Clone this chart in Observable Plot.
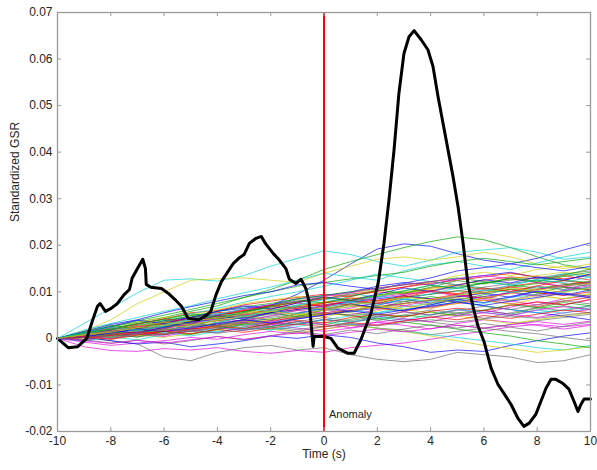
<!DOCTYPE html>
<html><head><meta charset="utf-8">
<script src="https://cdn.jsdelivr.net/npm/d3@7"></script>
<script src="https://cdn.jsdelivr.net/npm/@observablehq/plot@0.6"></script>
<style>body{margin:0;background:#fff;font-family:"Liberation Sans",Arial,sans-serif}</style>
</head><body><div id="chart"></div>
<script>
// time grid of the background (surrogate) traces, seconds
const times = [-10,-9,-8,-7,-6,-5,-4,-3,-2,-1,0,1,2,3,4,5,6,7,8,9,10];
// background traces, values in units of 1e-3 (standardized GSR)
const traces = [
[0,0.8,1.5,2.2,3.0,3.6,4.5,5.4,7.0,9.5,12.5,16.0,19.2,20.3,19.8,18.2,16.8,16.0,17.2,19.0,20.5],
[0,1.2,2.5,3.5,4.5,5.8,7.0,8.8,10.5,12.5,14.8,16.5,18.0,19.5,20.8,21.8,21.2,19.5,17.5,15.8,15.0],
[0,0.5,1.8,2.5,3.2,4.5,5.0,6.2,7.0,7.8,8.5,9.2,10.0,9.5,10.8,11.5,10.5,11.2,12.0,11.0,10.5],
[0,3.2,6.5,9.8,12.5,12.8,12.3,13.5,15.5,17.2,18.8,18.0,16.5,15.5,16.8,18.5,19.0,19.5,18.5,17.0,17.5],
[0,-1.8,-2.6,-2.8,-2.2,-2.5,-2.0,-2.8,-3.2,-2.6,-3.0,-2.0,-1.5,-1.0,-0.2,0.8,1.5,2.5,3.0,2.5,3.0],
[0,1.5,4.0,7.5,10.0,12.5,12.8,13.0,12.5,12.0,14.0,15.5,17.0,17.5,16.8,17.5,18.5,17.5,16.0,15.0,16.0],
[0,0.3,-0.5,-1.2,-4.0,-4.8,-3.0,-2.0,-1.5,-2.5,-2.0,-3.5,-4.5,-5.0,-4.5,-3.0,-3.5,-4.0,-5.2,-4.8,-3.5],
[0,-0.5,0.5,1.2,2.0,1.5,2.8,3.5,3.0,4.2,5.0,5.8,6.5,7.5,8.2,7.8,9.0,9.8,10.5,11.2,12.0],
[0,0.5,0.2,1.0,0.8,1.8,2.5,2.0,3.2,3.0,4.0,3.5,4.2,5.0,4.5,5.5,6.0,5.2,6.5,7.0,6.2],
[0,1.0,2.2,3.0,4.2,5.5,6.0,7.2,8.0,8.8,9.5,9.0,10.2,11.0,12.2,11.5,12.5,13.2,12.8,13.5,12.5],
[0,0.2,1.0,0.5,1.5,2.2,1.8,3.0,3.5,4.5,5.2,6.0,5.5,6.8,7.5,8.2,7.5,8.8,9.5,10.2,11.0],
[0,0.6,1.2,2.0,1.5,2.5,3.2,4.0,3.5,4.8,5.5,5.0,6.2,7.0,6.5,7.8,8.5,8.0,7.2,8.5,9.2],
[0,1.2,2.0,3.5,4.5,5.0,6.2,7.5,8.2,9.0,8.5,9.8,10.5,11.5,12.0,13.5,14.2,13.5,14.8,15.5,14.8],
[0,0.4,0.0,0.8,1.5,1.0,2.0,2.8,2.2,1.5,2.5,3.0,2.2,1.8,0.8,1.5,2.2,3.0,3.8,4.5,5.2],
[0,0.8,1.8,2.5,3.8,4.5,5.8,6.5,7.2,8.5,9.2,10.0,11.2,12.0,11.5,12.8,13.5,14.2,13.0,12.5,13.8],
[0,-0.2,0.5,1.5,2.2,3.5,4.0,5.2,6.0,6.8,7.2,8.0,7.5,8.8,9.5,10.2,9.8,11.0,11.8,12.5,12.0],
[0,0.5,1.0,2.0,2.8,3.2,4.5,5.0,5.8,6.5,7.8,7.2,6.5,5.8,6.8,7.5,8.2,7.5,6.8,8.0,8.8],
[0,1.8,3.2,4.5,5.8,7.0,8.5,9.8,11.0,12.5,14.0,13.2,12.5,14.5,15.8,16.5,15.5,14.8,16.2,17.5,18.5],
[0,-0.8,-1.5,-1.0,-0.5,0.2,-0.2,0.8,1.5,1.0,2.0,2.8,3.5,2.8,2.0,3.2,4.0,3.5,2.8,2.0,2.8],
[0,0.8,1.5,2.8,3.5,4.2,5.5,6.0,5.5,6.8,7.5,8.5,9.2,10.0,10.8,11.5,10.8,10.0,9.2,8.5,9.5],
[0,0.5,1.2,1.8,2.5,3.2,2.8,3.8,4.5,5.2,6.0,6.8,7.5,8.0,7.2,8.5,9.0,8.2,9.5,10.2,11.0],
[0,0.2,-0.5,-1.2,-0.8,-1.8,-1.2,-0.5,0.5,0.0,0.8,0.2,-1.0,-1.8,-3.0,-2.5,-2.8,-1.5,-0.5,0.5,1.2],
[0,1.0,2.5,3.8,5.0,6.2,7.5,8.8,10.0,11.2,12.0,12.8,13.5,14.2,15.5,16.5,17.2,16.5,15.8,16.5,17.2],
[0,0.3,0.8,1.5,2.2,3.0,3.8,4.5,5.5,6.2,6.8,7.5,8.2,9.0,8.5,9.5,10.2,11.0,10.5,11.5,12.2],
[0,0.5,0.0,0.8,1.2,0.5,1.5,2.2,1.8,2.5,3.5,3.0,2.2,1.5,0.8,0.2,-0.5,-1.2,-2.0,-2.5,-1.5],
[0,0.8,1.5,2.2,3.0,3.8,4.5,5.2,6.0,6.8,7.2,8.0,8.8,9.5,10.0,9.2,8.5,9.8,10.5,11.2,10.5],
[0,-0.3,0.2,0.8,0.2,1.0,1.8,2.5,2.0,1.2,2.0,2.8,2.2,1.5,0.5,-0.5,-1.5,-2.2,-3.0,-2.5,-1.8],
[0,0.8,1.8,2.5,3.5,4.2,5.0,5.8,6.5,7.0,7.8,8.2,9.0,9.8,10.2,11.0,11.8,12.5,13.0,13.8,14.5],
[0,1.5,3.0,4.0,5.5,6.8,8.0,9.2,10.0,11.5,12.0,11.2,10.5,11.8,13.0,14.5,15.2,16.0,15.2,14.5,15.5],
[0,0.4,1.2,0.8,1.8,2.8,2.2,3.5,4.2,4.8,5.5,5.0,4.2,3.5,2.8,2.0,1.2,0.5,-0.5,-1.2,-2.0],
[0,0.6,1.5,2.5,3.2,4.2,5.0,6.0,6.8,7.8,8.5,9.5,10.2,11.0,11.8,12.5,13.2,14.0,13.2,12.8,13.5],
[0,1.0,2.0,3.2,4.0,5.2,6.5,7.8,9.0,10.0,11.2,12.5,13.8,13.0,12.2,11.5,10.8,10.0,9.2,10.0,11.0],
[0,0.2,0.8,1.5,1.0,2.0,2.8,3.5,3.0,2.2,1.5,2.2,3.0,3.8,4.5,5.2,6.0,5.2,4.5,5.5,6.2],
[0,0.6,1.4,2.2,3.0,3.8,4.6,5.5,6.2,7.0,7.8,8.5,9.2,9.8,10.5,11.2,12.0,12.8,13.5,14.2,13.5],
[0,0.2,0.5,1.2,1.8,2.5,3.2,4.0,4.8,5.5,6.2,5.5,4.8,4.2,3.5,2.8,2.2,1.5,1.0,0.2,-0.5],
[0,0.5,1.2,2.0,2.8,3.5,4.2,4.8,5.5,6.2,7.0,7.8,8.5,9.2,8.5,7.8,7.0,6.2,5.5,4.8,4.0],
[0,0.8,1.8,2.8,3.8,4.8,5.8,6.8,7.5,8.5,9.2,10.0,10.8,11.5,12.2,13.0,12.2,11.5,10.8,11.5,12.2],
[0,0.3,0.6,1.0,1.5,2.0,2.5,3.2,3.8,4.5,5.2,6.0,6.8,7.5,8.2,9.0,9.8,10.5,9.8,9.2,10.0],
[0,0.6,1.2,1.8,2.5,3.2,2.5,1.8,2.5,3.2,4.0,4.8,5.5,6.2,7.0,7.8,7.0,6.2,5.5,6.2,7.0],
[0,0.5,1.5,2.5,3.5,4.5,5.2,6.2,7.2,8.0,9.0,9.8,10.8,11.5,12.2,12.8,13.5,12.8,12.0,11.2,12.0],
[0,0.2,0.2,0.5,1.0,1.8,2.5,3.2,4.0,4.8,5.5,6.2,7.0,6.2,5.5,4.8,4.0,3.2,4.0,4.8,5.5],
[0,0.5,1.2,1.8,2.5,3.0,3.8,4.5,5.2,6.0,6.5,7.2,8.0,8.8,9.5,10.2,11.0,11.8,12.5,11.8,11.2],
[0,0.9,0.4,1.6,2.9,2.1,3.4,4.6,3.9,5.3,6.6,5.8,7.1,8.4,7.6,8.9,9.7,8.8,10.1,9.3,10.4],
[0,0.3,1.4,0.9,2.3,3.5,2.8,4.1,5.4,4.7,6.1,7.3,6.6,7.9,9.0,8.2,9.4,10.6,9.8,11.0,10.3],
[0,1.1,2.3,1.8,3.1,4.4,5.6,4.9,6.3,7.6,6.9,8.2,7.5,8.8,10.1,9.4,8.6,9.9,11.2,10.5,11.8],
[0,0.7,1.9,3.2,2.6,3.9,5.1,6.4,5.8,7.1,8.3,9.6,8.9,10.2,11.4,10.8,12.1,11.4,12.7,13.9,13.2],
[0,-0.4,0.6,1.3,0.7,1.9,1.2,2.4,3.5,2.9,4.1,3.4,4.6,5.7,5.0,6.2,5.5,6.7,7.9,7.2,8.3],
[0,0.6,-0.2,0.9,2.0,1.4,2.6,3.7,3.1,4.3,5.4,4.8,5.9,7.1,6.4,7.6,8.7,8.1,9.2,8.5,9.7],
[0,0.5,1.6,1.0,2.2,3.3,2.7,3.9,3.2,4.4,5.5,4.9,3.8,5.0,6.1,5.4,4.3,5.5,6.6,5.9,7.0],
[0,1.3,2.6,3.9,3.2,4.5,5.8,7.0,6.3,7.6,8.9,8.2,9.5,10.8,10.1,11.4,12.6,11.9,13.2,12.5,13.8],
[0,0.2,0.9,0.3,1.5,0.8,2.0,3.1,2.5,3.6,2.9,4.1,5.2,4.6,5.7,4.9,6.1,7.2,6.6,7.7,7.0],
[0,0.8,1.9,3.1,4.2,3.6,4.8,5.9,7.1,6.4,7.6,8.7,8.0,9.2,10.3,9.6,10.8,10.1,11.3,12.4,11.7],
[0,-0.6,0.3,-0.3,0.8,1.9,1.3,2.5,1.8,3.0,4.1,3.5,4.6,3.9,5.1,6.2,5.6,4.9,6.1,5.4,6.6],
[0,0.4,1.5,2.7,2.0,3.2,4.3,3.7,4.9,6.0,5.4,6.5,7.7,7.0,8.2,9.3,8.6,9.8,9.1,10.3,11.4],
[0,1.0,0.4,1.7,2.9,2.2,3.5,4.7,4.0,5.3,4.6,5.8,7.0,6.3,7.6,8.8,8.1,7.3,8.6,9.8,9.0],
[0,-0.3,-1.0,-0.4,-1.2,-0.5,0.4,-0.3,0.6,1.5,0.8,1.8,1.0,2.0,2.9,2.2,3.2,2.4,1.6,2.6,3.5],
[0,0.6,1.7,1.1,2.4,3.6,4.9,4.2,5.5,6.8,6.1,7.4,6.7,5.9,7.2,8.4,7.7,9.0,10.2,9.5,8.7],
[0,1.4,2.8,2.1,3.5,4.9,4.2,5.6,7.0,8.3,7.6,9.0,10.4,9.7,11.0,12.4,11.7,13.0,12.3,13.6,14.9],
[0,0.1,0.7,1.4,0.8,2.0,2.7,2.1,3.2,3.9,3.3,4.5,5.2,4.6,5.8,6.5,5.9,7.1,7.8,7.2,8.4],
[0,0.9,2.1,1.5,2.8,4.0,3.4,4.7,5.9,5.3,6.6,7.8,7.2,8.5,7.9,9.2,10.4,9.8,11.1,10.5,11.8],
[0,0.5,-0.1,1.0,0.4,1.6,2.3,1.7,2.9,3.6,3.0,2.3,3.5,4.2,3.6,4.8,5.5,4.9,6.1,6.8,6.2],
[0,0.7,1.6,2.6,3.5,2.9,3.9,4.8,5.8,5.1,6.1,7.0,6.4,7.4,8.3,7.7,8.7,9.6,10.6,9.9,10.9],
[0,0.9,0.2,1.2,2.1,1.4,2.4,3.3,2.6,3.6,4.5,3.8,4.8,5.7,5.0,6.0,6.9,6.2,7.2,8.1,7.4],
[0,0.3,1.2,2.0,1.4,2.3,3.1,4.0,3.3,4.2,5.0,5.9,5.2,6.1,6.9,7.8,7.1,8.0,8.8,9.7,9.0],
[0,1.1,2.0,3.2,4.1,5.3,4.6,5.8,6.7,7.9,8.8,8.1,9.3,10.2,11.4,10.7,11.9,12.8,12.1,13.3,14.2],
[0,0.4,-0.2,0.7,1.6,1.0,1.9,1.3,2.2,3.1,2.5,3.4,2.8,3.7,4.6,4.0,4.9,4.3,5.2,6.1,5.5],
[0,1.2,2.4,1.8,3.0,4.2,5.4,4.8,6.0,7.2,8.4,7.8,9.0,8.4,9.6,10.8,10.2,11.4,12.6,12.0,13.2],
[0,-0.5,-1.1,-0.4,-1.0,-0.3,0.4,-0.2,0.5,1.2,0.6,1.3,2.0,1.4,2.1,2.8,2.2,2.9,3.6,3.0,3.7],
[0,0.8,1.3,2.3,2.8,3.8,4.3,5.3,5.8,6.8,6.3,7.3,7.8,8.8,8.3,9.3,9.8,10.8,10.3,11.3,11.8],
[0,0.2,0.8,0.3,1.0,1.6,1.1,1.8,2.4,1.9,2.6,3.2,2.7,3.4,4.0,3.5,4.2,4.8,4.3,5.0,5.6]
];
const traceColors = ["#0000ff","#00a000","#ff0000","#00d0d0","#e000e0","#cccc00","#6a6a6a"];

// thick black response trace
const blackT = [-10,-9.6,-9.25,-8.9,-8.7,-8.5,-8.4,-8.2,-8.0,-7.75,-7.5,-7.3,-7.2,-7.0,-6.8,-6.7,-6.67,-6.5,-6.1,-5.85,-5.6,-5.35,-5.1,-4.7,-4.4,-4.25,-4.05,-3.85,-3.6,-3.4,-3.2,-3.0,-2.8,-2.55,-2.35,-2.2,-1.9,-1.7,-1.43,-1.3,-1.05,-0.86,-0.68,-0.56,-0.49,-0.41,-0.37,-0.19,0,0.26,0.52,0.9,1.13,1.39,1.76,2.03,2.25,2.44,2.63,2.81,3.0,3.19,3.38,3.64,3.9,4.09,4.28,4.47,4.65,4.84,5.03,5.22,5.4,5.59,5.78,6.0,6.27,6.53,6.75,7.02,7.28,7.5,7.7,7.95,8.14,8.33,8.52,8.7,8.97,9.19,9.38,9.53,9.64,9.76,10];
const blackV = [0,-0.002,-0.0018,0.0,0.0036,0.0069,0.0075,0.0058,0.0064,0.0075,0.0094,0.0105,0.0129,0.015,0.017,0.015,0.0116,0.011,0.0107,0.0097,0.0084,0.0069,0.0043,0.004,0.005,0.0058,0.0094,0.0122,0.0144,0.0161,0.0172,0.018,0.0204,0.0215,0.0219,0.0204,0.0182,0.017,0.015,0.0127,0.0118,0.0127,0.0107,0.0079,0.0036,-0.0017,0.0004,0.0004,0.0004,0.0,-0.0021,-0.0032,-0.0032,-0.0002,0.0054,0.0118,0.0204,0.0298,0.0406,0.0526,0.0612,0.0648,0.0661,0.0642,0.062,0.0584,0.0519,0.0461,0.0406,0.0348,0.0283,0.0204,0.0118,0.0069,0.0026,-0.0006,-0.0064,-0.0099,-0.0118,-0.0142,-0.0172,-0.0189,-0.0182,-0.0163,-0.0135,-0.0107,-0.0088,-0.0088,-0.0097,-0.0109,-0.0135,-0.0157,-0.0142,-0.013,-0.013];

const xTicks = [-10,-8,-6,-4,-2,0,2,4,6,8,10];
const yTicks = [-0.02,-0.01,0,0.01,0.02,0.03,0.04,0.05,0.06,0.07];
const anomalyTime = 0;
const anomalyLabel = "Anomaly";
const xLabel = "Time (s)";
const yLabel = "Standardized GSR";

const traceRows = [];
traces.forEach((s, i) => s.forEach((v, j) => traceRows.push({t: times[j], v: v / 1000, s: i, c: traceColors[i % traceColors.length]})));
const blackRows = blackT.map((t, i) => ({t, v: blackV[i]}));

const W = 597, H = 470, mL = 57, mR = 7, mT = 12, mB = 39;
const innerW = W - mL - mR, innerH = H - mT - mB, tk = 4;
const axisCol = "#9a9a9a", textCol = "#262626";
const fmtY = d => String(+d.toFixed(2));

const chart = Plot.plot({
  width: W, height: H,
  marginLeft: mL, marginRight: mR, marginTop: mT, marginBottom: mB,
  style: {fontFamily: '"Liberation Sans", Arial, sans-serif', fontSize: "12px", color: textCol, background: "#fff"},
  x: {domain: [-10, 10]},
  y: {domain: [-0.02, 0.07]},
  color: {type: "identity"},
  marks: [
    Plot.line(traceRows, {x: "t", y: "v", z: "s", stroke: "c", strokeWidth: 0.8, strokeOpacity: 0.85}),
    Plot.line(blackRows, {x: "t", y: "v", stroke: "#000", strokeWidth: 3, strokeLinejoin: "round"}),
    Plot.ruleX([anomalyTime], {stroke: "#ff0000", strokeWidth: 2}),
    Plot.text([anomalyLabel], {x: anomalyTime, y: -0.0163, textAnchor: "start", dx: 5, fontSize: 11, fill: textCol}),
    Plot.frame({stroke: axisCol, strokeWidth: 1.3}),
    Plot.tickX(xTicks, {x: d => d, stroke: axisCol, insetTop: innerH - tk}),
    Plot.tickX(xTicks, {x: d => d, stroke: axisCol, insetBottom: innerH - tk}),
    Plot.tickY(yTicks, {y: d => d, stroke: axisCol, insetRight: innerW - tk}),
    Plot.tickY(yTicks, {y: d => d, stroke: axisCol, insetLeft: innerW - tk}),
    Plot.axisX({ticks: xTicks, tickSize: 0, tickPadding: 5, tickFormat: d => String(d), label: null, fontSize: 12}),
    Plot.axisY({ticks: yTicks, tickSize: 0, tickPadding: 5, tickFormat: fmtY, label: null, fontSize: 12}),
    Plot.text([xLabel], {frameAnchor: "bottom", dy: 26, fontSize: 12, fill: textCol}),
    Plot.text([yLabel], {frameAnchor: "left", rotate: -90, dx: -42, fontSize: 12, fill: textCol})
  ]
});
document.getElementById("chart").appendChild(chart);
</script></body></html>
